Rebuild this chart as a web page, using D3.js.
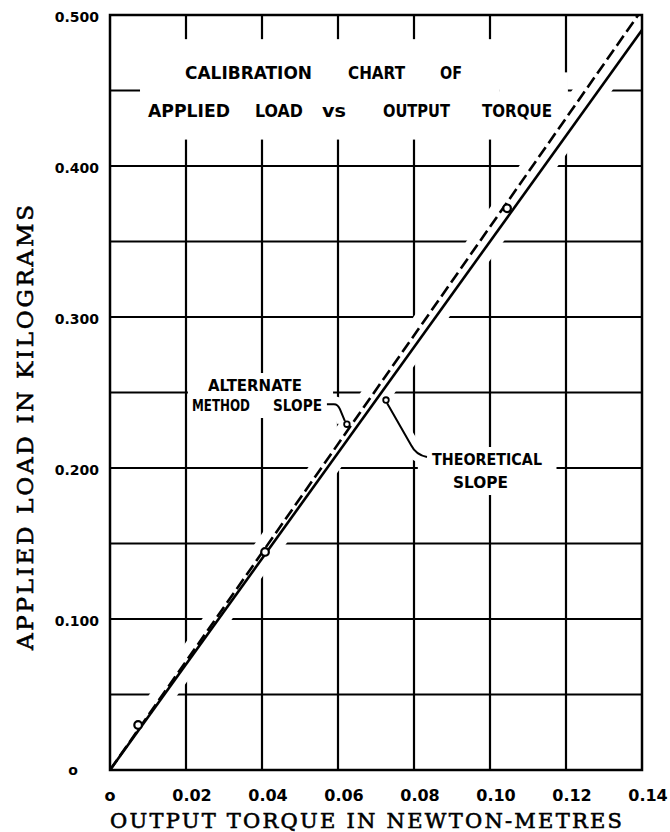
<!DOCTYPE html>
<html>
<head>
<meta charset="utf-8">
<script src="https://cdn.jsdelivr.net/npm/d3@7"></script>
<style>
body{margin:0;background:#fff;}
svg{display:block;}
</style>
</head>
<body>
<svg id="chart" width="670" height="832"></svg>
<script>
// axis ticks (torque in N-m, load in kg)
let xTicks = [0, 0.02, 0.04, 0.06, 0.08, 0.10, 0.12, 0.14];
let xTickLabels = ['o', '0.02', '0.04', '0.06', '0.08', '0.10', '0.12', '0.14'];
let yGrid = [0.05, 0.10, 0.15, 0.20, 0.25, 0.30, 0.35, 0.40, 0.45];
let yTicks = [0, 0.1, 0.2, 0.3, 0.4, 0.5];
let yTickLabels = ['o', '0.100', '0.200', '0.300', '0.400', '0.500'];

// the two slopes, [torque, load]
let theoreticalSlope = [[0, 0], [0.14, 0.49]];
let alternateSlope = [[0, 0], [0.139, 0.5]];

// measured calibration points
let measuredTorque = [0.0074, 0.0408, 0.1045];
let measuredLoad = [0.0298, 0.1444, 0.372];

let titleRow1 = ['CALIBRATION', 'CHART', 'OF'];
let titleRow2 = ['APPLIED', 'LOAD', 'vs', 'OUTPUT', 'TORQUE'];

let svg = d3.select('#chart');
let x = d3.scaleLinear().domain([0, 0.14]).range([110, 642]);
let y = d3.scaleLinear().domain([0, 0.5]).range([770, 15]);
let line = d3.line().x(d => x(d[0])).y(d => y(d[1]));

let sans = '"DejaVu Sans", sans-serif';
let serif = '"DejaVu Serif", serif';

svg.append('clipPath').attr('id', 'plot')
   .append('rect').attr('x', x(0)).attr('y', y(0.5))
   .attr('width', x(0.14) - x(0)).attr('height', y(0) - y(0.5));

// grid
let grid = svg.append('g').attr('stroke', '#000').attr('stroke-width', 2.2);
grid.selectAll('.v').data(xTicks.slice(1, -1)).enter().append('line')
    .attr('x1', d => x(d)).attr('x2', d => x(d))
    .attr('y1', y(0)).attr('y2', y(0.5));
grid.selectAll('.h').data(yGrid).enter().append('line')
    .attr('x1', x(0)).attr('x2', x(0.14))
    .attr('y1', d => y(d)).attr('y2', d => y(d));

// white gaps in the grid round the lettering and the slopes
let gaps = svg.append('g').attr('clip-path', 'url(#plot)');
let gapBoxes = [
    [0.0079, 0.484, 0.1026, 0.4175],
    [0.1026, 0.462, 0.1205, 0.4175],
    [0.0205, 0.2629, 0.0587, 0.2331],
    [0.0810, 0.2139, 0.1175, 0.1821]
];
gaps.selectAll('rect').data(gapBoxes).enter().append('rect')
    .attr('x', d => x(d[0])).attr('y', d => y(d[1]))
    .attr('width', d => x(d[2]) - x(d[0])).attr('height', d => y(d[3]) - y(d[1]))
    .attr('fill', '#fff');
[theoreticalSlope, alternateSlope].forEach(s => {
    gaps.append('path').attr('d', line(s))
        .attr('fill', 'none').attr('stroke', '#fff').attr('stroke-width', 22);
});

// leader lines (computed from points on the slopes)
let altPt = [x(0.229 * 0.139 / 0.5) - 5, y(0.229)];
let theoPt = [x(0.245 / 3.5) + 10, y(0.245)];
let altLeader = `M${altPt[0] - 20},${altPt[1] - 20} h7 q4,0 6,5 L${altPt[0] - 2},${altPt[1] - 3}`;
let theoLeader = `M${theoPt[0] + 1},${theoPt[1] + 3} L${theoPt[0] + 25},${theoPt[1] + 45} q5,10 16,12`;
[altLeader, theoLeader].forEach(p => {
    gaps.append('path').attr('d', p).attr('fill', 'none')
        .attr('stroke', '#fff').attr('stroke-width', 16);
});

// frame
svg.append('rect').attr('x', x(0)).attr('y', y(0.5))
   .attr('width', x(0.14) - x(0)).attr('height', y(0) - y(0.5))
   .attr('fill', 'none').attr('stroke', '#000').attr('stroke-width', 2.5);

// slopes
svg.append('path').attr('d', line(theoreticalSlope))
   .attr('fill', 'none').attr('stroke', '#000').attr('stroke-width', 2.6);
svg.append('path').attr('d', line(alternateSlope))
   .attr('fill', 'none').attr('stroke', '#000').attr('stroke-width', 2.6)
   .attr('stroke-dasharray', '12,5');

svg.selectAll('.pt').data(measuredTorque).enter().append('circle')
   .attr('cx', d => x(d)).attr('cy', (d, i) => y(measuredLoad[i]))
   .attr('r', 3.8).attr('fill', '#fff').attr('stroke', '#000').attr('stroke-width', 2.2);

[altLeader, theoLeader].forEach(p => {
    svg.append('path').attr('d', p).attr('fill', 'none')
       .attr('stroke', '#000').attr('stroke-width', 2);
});
svg.append('circle').attr('cx', altPt[0]).attr('cy', altPt[1]).attr('r', 2.8)
   .attr('fill', '#fff').attr('stroke', '#000').attr('stroke-width', 1.8);
svg.append('circle').attr('cx', theoPt[0]).attr('cy', theoPt[1]).attr('r', 2.8)
   .attr('fill', '#fff').attr('stroke', '#000').attr('stroke-width', 1.8);

// lettering helper
let letter = (txt, px, py, w, size, font, weight) => {
    let t = svg.append('text').attr('x', px).attr('y', py)
        .attr('font-family', font).attr('font-size', size)
        .attr('font-weight', weight || 'bold').attr('fill', '#000').text(txt);
    if (w) t.attr('textLength', w).attr('lengthAdjust', 'spacingAndGlyphs');
    return t;
};

// title
let row1X = [185, 348, 440], row1W = [127, 57, 22];
let row2X = [148, 255, 322, 383, 482], row2W = [82, 48, 24, 67, 70];
titleRow1.forEach((w, i) => letter(w, row1X[i], 79, row1W[i], 18, sans));
titleRow2.forEach((w, i) => letter(w, row2X[i], 117, row2W[i], 18, sans));

// annotations
letter('ALTERNATE', 208, 391, 94, 15, sans);
letter('METHOD', 192, 411, 58, 15, sans);
letter('SLOPE', 273, 411, 49, 15, sans);
letter('THEORETICAL', 432, 465, 110, 15, sans);
letter('SLOPE', 453, 488, 55, 15, sans);

// y tick labels
svg.selectAll('.yl').data(yTicks).enter().append('text')
   .attr('x', d => d === 0 ? 73 : 99)
   .attr('y', d => y(d) + (d === 0 ? 5 : 7))
   .attr('text-anchor', d => d === 0 ? 'middle' : 'end')
   .attr('font-family', sans).attr('font-weight', 'bold').attr('font-size', 14)
   .text((d, i) => yTickLabels[i]);

// x tick labels
svg.selectAll('.xl').data(xTicks).enter().append('text')
   .attr('x', d => x(d) + (d === 0 ? 0 : 6))
   .attr('y', 801)
   .attr('text-anchor', 'middle')
   .attr('font-family', sans).attr('font-weight', 'bold').attr('font-size', 16)
   .text((d, i) => xTickLabels[i]);

// axis titles
svg.append('text').attr('x', 110).attr('y', 828)
   .attr('font-family', serif).attr('font-size', 21).attr('fill', '#000')
   .attr('stroke', '#000').attr('stroke-width', 0.6)
   .attr('textLength', 512).attr('lengthAdjust', 'spacing')
   .text('OUTPUT TORQUE IN NEWTON-METRES');
svg.append('text').attr('transform', 'translate(33,650) rotate(-90)')
   .attr('font-family', serif).attr('font-size', 23).attr('fill', '#000')
   .attr('stroke', '#000').attr('stroke-width', 0.6)
   .attr('textLength', 445).attr('lengthAdjust', 'spacing')
   .text('APPLIED LOAD IN KILOGRAMS');
</script>
</body>
</html>
